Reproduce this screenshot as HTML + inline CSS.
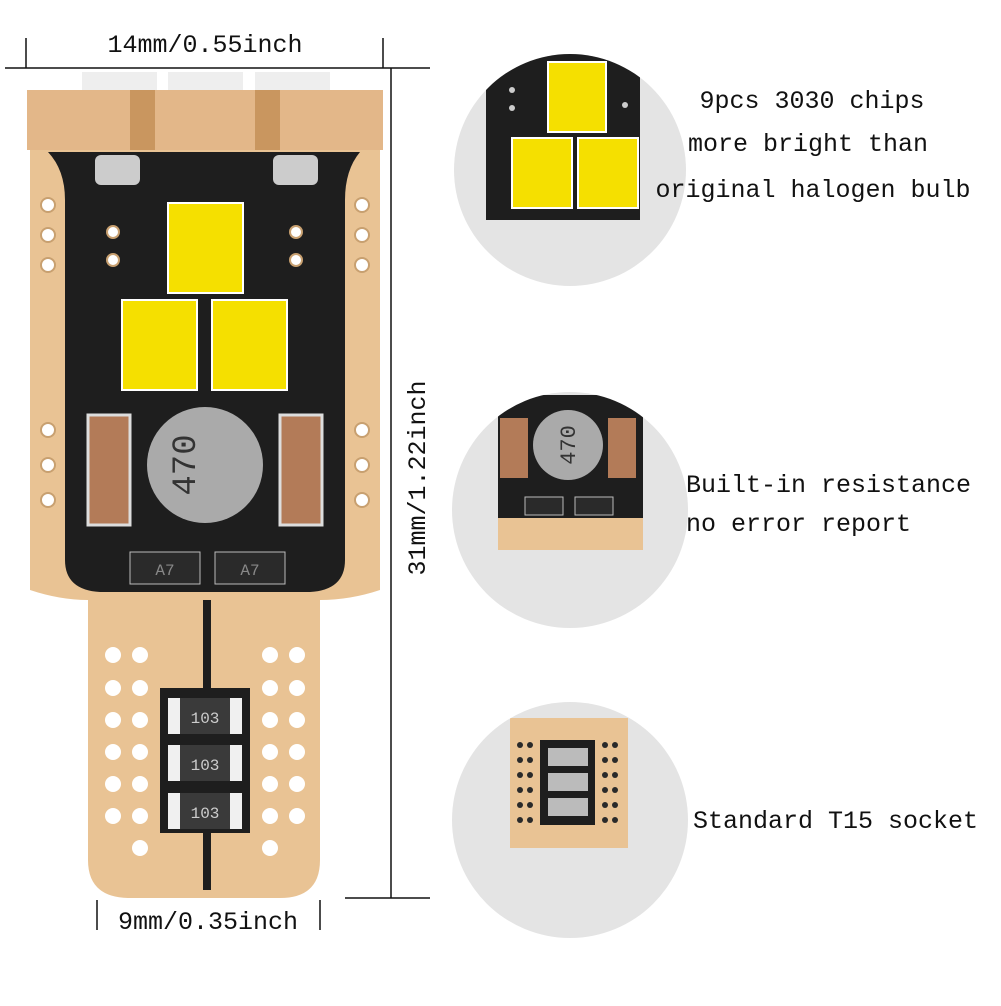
<!DOCTYPE html>
<html><head><style>
body{margin:0;background:#fff;width:1001px;height:1001px;overflow:hidden}
text{font-family:"Liberation Mono",monospace;fill:#111}
</style></head><body>
<svg width="1001" height="1001" viewBox="0 0 1001 1001" xmlns="http://www.w3.org/2000/svg">
<defs>
<clipPath id="c1"><circle cx="570" cy="170" r="116"/></clipPath>
<clipPath id="c2"><circle cx="570" cy="510" r="118"/></clipPath>
<clipPath id="c3"><circle cx="570" cy="820" r="118"/></clipPath>
</defs>
<!-- dimension lines -->
<g stroke="#111" stroke-width="1.5" fill="none">
<line x1="5" y1="68" x2="430" y2="68"/>
<line x1="26" y1="38" x2="26" y2="68"/>
<line x1="383" y1="38" x2="383" y2="68"/>
<line x1="391" y1="68" x2="391" y2="898"/>
<line x1="345" y1="898" x2="430" y2="898"/>
<line x1="97" y1="900" x2="97" y2="930"/>
<line x1="320" y1="900" x2="320" y2="930"/>
</g>
<text x="205" y="52" font-size="25" text-anchor="middle">14mm/0.55inch</text>
<text x="208" y="929" font-size="25" text-anchor="middle">9mm/0.35inch</text>
<text transform="translate(425,478) rotate(-90)" font-size="25" text-anchor="middle">31mm/1.22inch</text>

<!-- pins -->
<rect x="82" y="72" width="75" height="20" fill="#eee"/>
<rect x="168" y="72" width="75" height="20" fill="#eee"/>
<rect x="255" y="72" width="75" height="20" fill="#eee"/>
<!-- board -->
<path d="M30 150 L30 590 Q60 600 88 600 L88 860 Q88 898 130 898 L280 898 Q320 898 320 860 L320 600 Q350 600 380 590 L380 150 Z" fill="#e9c394"/>
<rect x="27" y="90" width="356" height="60" fill="#e3b789"/>
<rect x="130" y="90" width="25" height="60" fill="#c9965f"/>
<rect x="255" y="90" width="25" height="60" fill="#c9965f"/>
<!-- black area -->
<path d="M48 152 L360 152 Q345 170 345 200 L345 560 Q345 590 310 592 L100 592 Q65 590 65 560 L65 200 Q65 170 48 152 Z" fill="#1e1e1e"/>
<rect x="95" y="155" width="45" height="30" rx="6" fill="#ccc"/>
<rect x="273" y="155" width="45" height="30" rx="6" fill="#ccc"/>
<!-- holes -->
<g fill="#fff" stroke="#c8a070" stroke-width="2">
<circle cx="48" cy="205" r="7"/><circle cx="48" cy="235" r="7"/><circle cx="48" cy="265" r="7"/>
<circle cx="362" cy="205" r="7"/><circle cx="362" cy="235" r="7"/><circle cx="362" cy="265" r="7"/>
<circle cx="48" cy="430" r="7"/><circle cx="48" cy="465" r="7"/><circle cx="48" cy="500" r="7"/>
<circle cx="362" cy="430" r="7"/><circle cx="362" cy="465" r="7"/><circle cx="362" cy="500" r="7"/>
<circle cx="113" cy="232" r="6"/><circle cx="113" cy="260" r="6"/>
<circle cx="296" cy="232" r="6"/><circle cx="296" cy="260" r="6"/>
</g>
<!-- LEDs -->
<rect x="168" y="203" width="75" height="90" fill="#f5e000" stroke="#fff" stroke-width="2"/>
<rect x="122" y="300" width="75" height="90" fill="#f5e000" stroke="#fff" stroke-width="2"/>
<rect x="212" y="300" width="75" height="90" fill="#f5e000" stroke="#fff" stroke-width="2"/>
<!-- resistors -->
<rect x="88" y="415" width="42" height="110" fill="#b37b58" stroke="#ddd" stroke-width="3"/>
<rect x="280" y="415" width="42" height="110" fill="#b37b58" stroke="#ddd" stroke-width="3"/>
<circle cx="205" cy="465" r="58" fill="#aaa"/>
<text transform="translate(195,465) rotate(-90)" font-size="34" text-anchor="middle" style="fill:#333">470</text>
<rect x="130" y="552" width="70" height="32" fill="#2a2a2a" stroke="#bbb"/>
<rect x="215" y="552" width="70" height="32" fill="#2a2a2a" stroke="#bbb"/>
<text x="165" y="575" font-size="16" text-anchor="middle" style="fill:#888">A7</text>
<text x="250" y="575" font-size="16" text-anchor="middle" style="fill:#888">A7</text>
<rect x="203" y="600" width="8" height="290" fill="#1e1e1e"/>
<!-- bottom holes -->
<g fill="#fff">
<circle cx="113" cy="655" r="8"/><circle cx="140" cy="655" r="8"/><circle cx="270" cy="655" r="8"/><circle cx="297" cy="655" r="8"/>
<circle cx="113" cy="688" r="8"/><circle cx="140" cy="688" r="8"/><circle cx="270" cy="688" r="8"/><circle cx="297" cy="688" r="8"/>
<circle cx="113" cy="720" r="8"/><circle cx="140" cy="720" r="8"/><circle cx="270" cy="720" r="8"/><circle cx="297" cy="720" r="8"/>
<circle cx="113" cy="752" r="8"/><circle cx="140" cy="752" r="8"/><circle cx="270" cy="752" r="8"/><circle cx="297" cy="752" r="8"/>
<circle cx="113" cy="784" r="8"/><circle cx="140" cy="784" r="8"/><circle cx="270" cy="784" r="8"/><circle cx="297" cy="784" r="8"/>
<circle cx="113" cy="816" r="8"/><circle cx="140" cy="816" r="8"/><circle cx="270" cy="816" r="8"/><circle cx="297" cy="816" r="8"/>
<circle cx="140" cy="848" r="8"/><circle cx="270" cy="848" r="8"/>
</g>
<rect x="160" y="688" width="90" height="145" fill="#1e1e1e"/>
<g fill="#f0f0f0"><rect x="168" y="698" width="74" height="36"/><rect x="168" y="745" width="74" height="36"/><rect x="168" y="793" width="74" height="36"/></g>
<g fill="#3a3a3a"><rect x="180" y="698" width="50" height="36"/><rect x="180" y="745" width="50" height="36"/><rect x="180" y="793" width="50" height="36"/></g>
<text x="205" y="723" font-size="16" text-anchor="middle" style="fill:#ccc">103</text>
<text x="205" y="770" font-size="16" text-anchor="middle" style="fill:#ccc">103</text>
<text x="205" y="818" font-size="16" text-anchor="middle" style="fill:#ccc">103</text>

<!-- right circles -->
<circle cx="570" cy="170" r="116" fill="#e4e4e4"/>
<g clip-path="url(#c1)">
<rect x="486" y="50" width="154" height="170" fill="#1e1e1e"/>
<rect x="548" y="62" width="58" height="70" fill="#f5e000" stroke="#fff" stroke-width="2"/>
<rect x="512" y="138" width="60" height="70" fill="#f5e000" stroke="#fff" stroke-width="2"/>
<rect x="578" y="138" width="60" height="70" fill="#f5e000" stroke="#fff" stroke-width="2"/>
<circle cx="512" cy="90" r="3" fill="#ccc"/><circle cx="512" cy="108" r="3" fill="#ccc"/><circle cx="625" cy="105" r="3" fill="#ccc"/>
</g>
<circle cx="570" cy="510" r="118" fill="#e4e4e4"/>
<g clip-path="url(#c2)">
<rect x="498" y="395" width="145" height="155" fill="#1e1e1e"/>
<rect x="498" y="518" width="145" height="32" fill="#e9c394"/>
<rect x="500" y="418" width="28" height="60" fill="#b37b58"/>
<rect x="608" y="418" width="28" height="60" fill="#b37b58"/>
<circle cx="568" cy="445" r="35" fill="#aaa"/>
<text transform="translate(575,445) rotate(-90)" font-size="22" text-anchor="middle" style="fill:#333">470</text>
<rect x="525" y="497" width="38" height="18" fill="#2a2a2a" stroke="#bbb"/>
<rect x="575" y="497" width="38" height="18" fill="#2a2a2a" stroke="#bbb"/>
</g>
<circle cx="570" cy="820" r="118" fill="#e4e4e4"/>
<g clip-path="url(#c3)">
<rect x="510" y="718" width="118" height="130" fill="#e9c394"/>
<g fill="#2a2a2a">
<circle cx="520" cy="745" r="3"/><circle cx="530" cy="745" r="3"/><circle cx="520" cy="760" r="3"/><circle cx="530" cy="760" r="3"/><circle cx="520" cy="775" r="3"/><circle cx="530" cy="775" r="3"/><circle cx="520" cy="790" r="3"/><circle cx="530" cy="790" r="3"/><circle cx="520" cy="805" r="3"/><circle cx="530" cy="805" r="3"/><circle cx="520" cy="820" r="3"/><circle cx="530" cy="820" r="3"/>
<circle cx="605" cy="745" r="3"/><circle cx="615" cy="745" r="3"/><circle cx="605" cy="760" r="3"/><circle cx="615" cy="760" r="3"/><circle cx="605" cy="775" r="3"/><circle cx="615" cy="775" r="3"/><circle cx="605" cy="790" r="3"/><circle cx="615" cy="790" r="3"/><circle cx="605" cy="805" r="3"/><circle cx="615" cy="805" r="3"/><circle cx="605" cy="820" r="3"/><circle cx="615" cy="820" r="3"/>
</g>
<rect x="540" y="740" width="55" height="85" fill="#1e1e1e"/>
<g fill="#bbb"><rect x="548" y="748" width="40" height="18"/><rect x="548" y="773" width="40" height="18"/><rect x="548" y="798" width="40" height="18"/></g>
</g>

<text x="812" y="108" font-size="25" text-anchor="middle">9pcs 3030 chips</text>
<text x="808" y="151" font-size="25" text-anchor="middle">more bright than</text>
<text x="813" y="197" font-size="25" text-anchor="middle">original halogen bulb</text>
<text x="686" y="492" font-size="25">Built-in resistance</text>
<text x="686" y="531" font-size="25">no error report</text>
<text x="693" y="828" font-size="25">Standard T15 socket</text>
</svg>
</body></html>
